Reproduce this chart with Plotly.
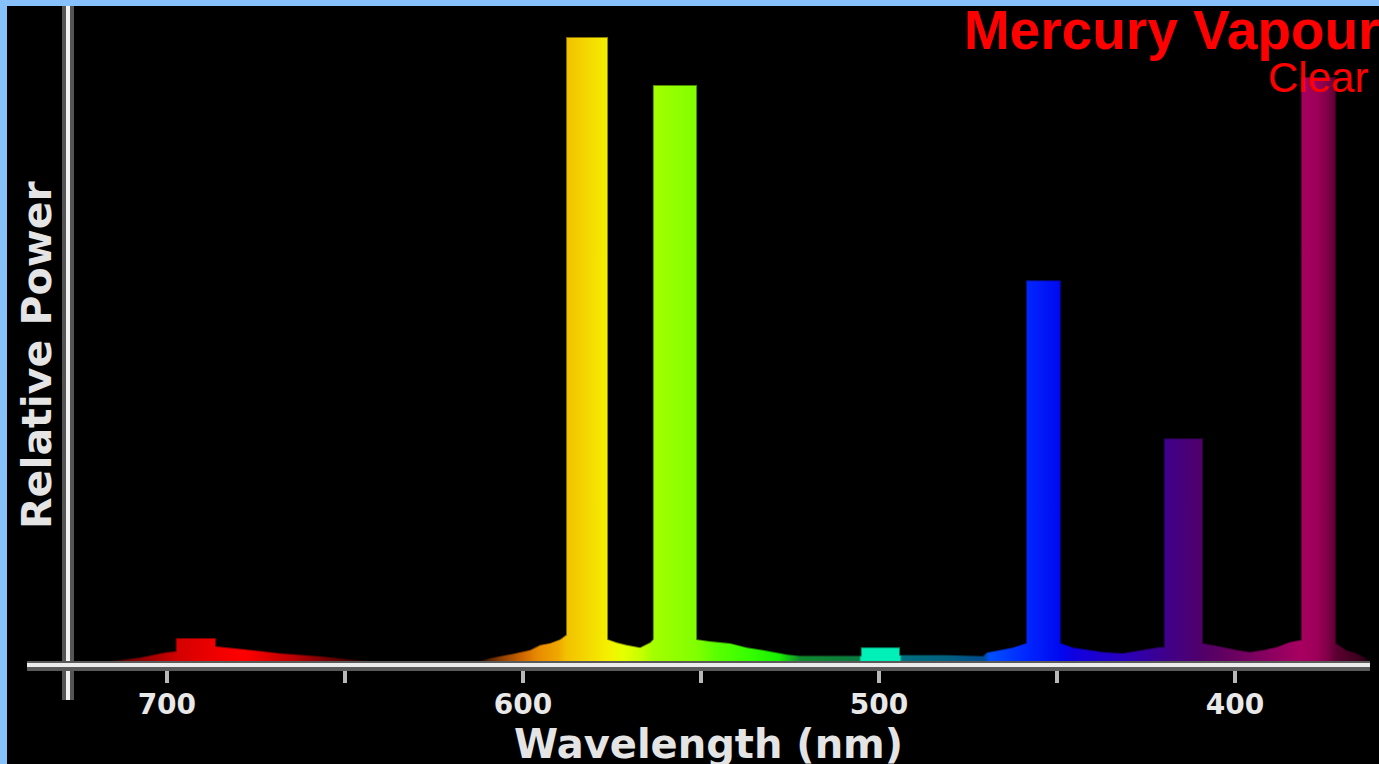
import plotly.graph_objects as go

# ---- data (wavelength in nm, relative power) ----
wavelength_nm = [
    716.0, 707.6, 700.6, 697.5, 697.5, 686.2, 686.2, 678.1, 668.3, 657.0, 648.6, 643.0,
    612.1, 609.3, 602.8, 598.0, 595.2, 592.4, 589.6, 587.9, 587.9, 576.1, 576.1, 573.6,
    570.8, 567.1, 564.3, 563.5, 563.5, 551.1, 551.1, 547.5, 541.9, 537.1, 532.6, 525.8,
    522.2, 505.1, 505.1, 494.1, 494.1, 480.9, 470.8, 469.7, 466.0, 462.4, 458.7, 458.7,
    448.9, 448.9, 445.5, 441.6, 437.1, 431.5, 426.7, 421.1, 420.0, 420.0, 409.0, 409.0,
    403.4, 399.4, 395.8, 392.1, 388.2, 384.6, 381.5, 381.5, 371.6, 371.6, 368.8, 366.0,
    363.3, 362.4,
]
relative_power = [
    0.0, 0.6, 1.4, 1.6, 3.7, 3.7, 2.4, 1.9, 1.3, 0.8, 0.3, 0.0,
    0.0, 0.5, 1.2, 1.8, 2.6, 2.9, 3.5, 4.2, 100.0, 100.0, 3.5, 3.0,
    2.6, 2.2, 3.0, 3.5, 92.3, 92.3, 3.5, 3.2, 2.9, 2.2, 1.8, 1.1,
    0.9, 0.9, 2.2, 2.2, 1.0, 1.0, 0.85, 1.4, 1.8, 2.2, 2.9, 61.0,
    61.0, 2.9, 2.2, 1.9, 1.5, 1.3, 1.8, 2.3, 2.3, 35.7, 35.7, 2.9,
    2.3, 1.8, 1.5, 1.8, 2.3, 3.1, 3.4, 93.6, 93.6, 2.9, 1.8, 1.3,
    0.6, 0.0,
]
tick_values = [700, 650, 600, 550, 500, 450, 400]
tick_labels = ["700", "", "600", "", "500", "", "400"]

title_text = "Mercury Vapour"
subtitle_text = "Clear"
x_title = "Wavelength (nm)"
y_title = "Relative Power"

# ---- style: spectral colours along the wavelength axis ----
spectral_stops = [
    (362, "#200010"), (366, "#400020"), (371.5, "#5a0030"), (374, "#800048"),
    (377, "#9c0058"), (381.5, "#a80060"), (390, "#8c0060"), (400, "#6a0060"),
    (409, "#520068"), (421, "#3c0090"), (432, "#2800c0"), (445, "#1000e0"),
    (449, "#0008f0"), (459, "#0028ff"), (469, "#0050ff"), (470.5, "#004c90"),
    (481, "#006080"), (493.6, "#007080"), (494.2, "#00f0b8"), (505, "#00f0b8"),
    (505.6, "#0c7a40"), (522, "#108a30"), (528, "#18f000"), (537, "#38ff00"),
    (546, "#5cff00"), (551, "#80ff00"), (563.5, "#a4ff00"), (567, "#c8ff00"),
    (572, "#e6ff00"), (576, "#f5f000"), (582, "#f4d800"), (588, "#f2c000"),
    (590, "#f0a800"), (596, "#e88a00"), (600, "#d06800"), (606, "#904000"),
    (612, "#301000"), (640, "#200000"), (650, "#500000"), (665, "#c00000"),
    (678, "#ff0000"), (686, "#f00000"), (697, "#d40000"), (705, "#a00000"),
    (716, "#500000"), (740, "#200000"),
]
G0, G1 = 360.0, 740.0
colorscale = [[0.0, spectral_stops[0][1]]]
colorscale += [[(w - G0) / (G1 - G0), c] for w, c in spectral_stops]
colorscale += [[1.0, spectral_stops[-1][1]]]

W, H = 1379, 764
ML, MR, MT, MB = 28, 9, 6, 103
PW, PH = W - ML - MR, H - MT - MB
Y_MAX = PH / 6.24


def px_x(p):
    return (p - ML) / PW


def px_y(p):
    return (H - MB - p) / PH


fig = go.Figure()
fig.add_trace(go.Scatter(
    x=wavelength_nm, y=relative_power, mode="lines", fill="tozeroy",
    line=dict(color="rgba(0,0,0,0.45)", width=2),
    fillgradient=dict(type="horizontal", colorscale=colorscale, start=G0, stop=G1),
    hoverinfo="skip", showlegend=False,
))

shapes = [
    # black panel inside the light-blue frame
    dict(type="rect", xref="paper", yref="paper", layer="below",
         x0=px_x(7), x1=px_x(W + 5), y0=px_y(H + 5), y1=px_y(6),
         fillcolor="#000000", line=dict(width=0)),
    # y axis line (extends below the x axis)
    dict(type="line", xref="paper", yref="paper", x0=px_x(68), x1=px_x(68),
         y0=px_y(6), y1=px_y(700), line=dict(color="#555555", width=12)),
    dict(type="line", xref="paper", yref="paper", x0=px_x(68), x1=px_x(68),
         y0=px_y(6), y1=px_y(700), line=dict(color="#f2f2f2", width=4)),
    # x axis line (extends left of the y axis)
    dict(type="line", xref="paper", yref="paper", x0=px_x(27), x1=px_x(1370),
         y0=px_y(666), y1=px_y(666), line=dict(color="#5a5a5a", width=10)),
    dict(type="line", xref="paper", yref="paper", x0=px_x(27), x1=px_x(1370),
         y0=px_y(665), y1=px_y(665), line=dict(color="#ececec", width=4)),
]

annotations = [
    dict(text=title_text, xref="paper", yref="paper", x=px_x(1382), y=px_y(30),
         xanchor="right", yanchor="middle", showarrow=False,
         font=dict(family="Liberation Sans", size=55, color="#ff0000", weight="bold")),
    dict(text=subtitle_text, xref="paper", yref="paper", x=px_x(1370), y=px_y(78),
         xanchor="right", yanchor="middle", showarrow=False,
         font=dict(family="Liberation Sans", size=42, color="#ff0000")),
    dict(text=x_title, xref="paper", yref="paper", x=px_x(708), y=px_y(744),
         xanchor="center", yanchor="middle", showarrow=False,
         font=dict(family="DejaVu Sans", size=40, color="#e4e4e4", weight="bold")),
    dict(text=y_title, xref="paper", yref="paper", x=px_x(37), y=px_y(355),
         xanchor="center", yanchor="middle", showarrow=False, textangle=-90,
         font=dict(family="DejaVu Sans", size=41, color="#e4e4e4", weight="bold")),
]

fig.update_layout(
    width=W, height=H,
    margin=dict(l=ML, r=MR, t=MT, b=MB, pad=0),
    paper_bgcolor="#86c1fc", plot_bgcolor="#000000",
    shapes=shapes, annotations=annotations,
    xaxis=dict(range=[739.0, 362.1], showgrid=False, zeroline=False, showline=False,
               tickmode="array", tickvals=tick_values, ticktext=tick_labels,
               ticks="outside", ticklen=21, tickwidth=4, tickcolor="#b8b8b8",
               tickfont=dict(family="DejaVu Sans", size=28, color="#e8e8e8", weight="bold"),
               ticklabelstandoff=-3, fixedrange=True),
    yaxis=dict(range=[0, Y_MAX], showgrid=False, zeroline=False, showline=False,
               showticklabels=False, ticks="", fixedrange=True),
)

fig.write_html("out.html", config={"displayModeBar": False},
               post_script="document.body.style.margin='0px';")
